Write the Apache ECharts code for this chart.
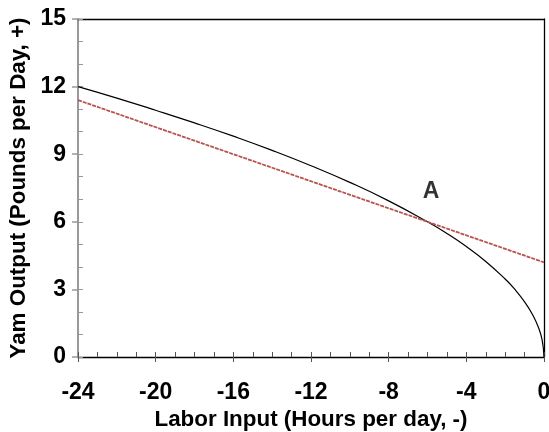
<!DOCTYPE html>
<html><head><meta charset="utf-8">
<script src="https://cdn.jsdelivr.net/npm/echarts@6/dist/echarts.min.js"></script>
<style>html,body{margin:0;padding:0;background:#fff}#c{width:549px;height:432px}</style>
</head><body><div id="c"></div>
<script>
var curveX = [-24, -22, -20, -18, -16, -14, -12, -10, -8, -6, -5, -4, -3, -2, -1.5, -1, -0.6, -0.3, -0.1, 0];
var curveY = [12, 11.49, 10.95, 10.39, 9.8, 9.17, 8.49, 7.75, 6.93, 6, 5.48, 4.9, 4.24, 3.46, 3.0, 2.45, 1.9, 1.34, 0.77, 0];
var lineX = [-24, 0];
var lineY = [11.4, 4.2];
var pointA = {label: 'A', x: -6, y: 6};
var xTicks = [-24, -20, -16, -12, -8, -4, 0];
var yTicks = [0, 3, 6, 9, 12, 15];

var chart = echarts.init(document.getElementById('c'));
var font = 'Liberation Sans, Arial, sans-serif';
function pairs(xs, ys){ return xs.map(function(x,i){return [x, ys[i]];}); }
var xBase = {type:'value', min:-24, max:0, interval:4, gridIndex:0};
var yBase = {type:'value', min:0, max:15, interval:3, gridIndex:0};
chart.setOption({
  animation:false,
  grid:{left:78, right:5, top:19, bottom:75, outerBoundsMode:'none', containLabel:false},
  xAxis:[
    Object.assign({}, xBase, {position:'bottom',
      name:'Labor Input (Hours per day, -)', nameLocation:'middle', nameGap:49,
      nameTextStyle:{fontFamily:font, fontWeight:'bold', fontSize:22.4, color:'#000'},
      axisLine:{show:true, onZero:false, lineStyle:{color:'#000', width:1.3}},
      axisTick:{show:true, inside:false, length:5, lineStyle:{color:'#555'}},
      minorTick:{show:false},
      axisLabel:{fontFamily:font, fontWeight:'bold', fontSize:23, color:'#000', margin:24,
        formatter:function(v){return xTicks.indexOf(v)>=0 ? String(v) : '';}},
      splitLine:{show:false}}),
    Object.assign({}, xBase, {position:'bottom',
      axisLine:{show:false, onZero:false},
      axisTick:{show:true, inside:true, length:5, lineStyle:{color:'#555'}},
      minorTick:{show:true, splitNumber:4, length:5, lineStyle:{color:'#555'}},
      axisLabel:{show:false}, splitLine:{show:false}}),
    Object.assign({}, xBase, {position:'top',
      axisLine:{show:true, onZero:false, lineStyle:{color:'#000', width:1.3}},
      axisTick:{show:false}, axisLabel:{show:false}, splitLine:{show:false}})
  ],
  yAxis:[
    Object.assign({}, yBase, {position:'left',
      name:'Yam Output (Pounds per Day, +)', nameLocation:'middle', nameGap:44, nameRotate:90,
      nameTextStyle:{fontFamily:font, fontWeight:'bold', fontSize:22.4, color:'#000'},
      axisLine:{show:true, onZero:false, lineStyle:{color:'#777', width:1.5}},
      axisTick:{show:true, inside:false, length:6, lineStyle:{color:'#999', width:1.5}},
      axisLabel:{fontFamily:font, fontWeight:'bold', fontSize:23, color:'#000', margin:12,
        formatter:function(v){return yTicks.indexOf(v)>=0 ? String(v) : '';}},
      splitLine:{show:false}}),
    Object.assign({}, yBase, {position:'left',
      axisLine:{show:false, onZero:false},
      axisTick:{show:true, inside:true, length:5, lineStyle:{color:'#999'}},
      minorTick:{show:true, splitNumber:3, length:5, lineStyle:{color:'#999'}},
      axisLabel:{show:false}, splitLine:{show:false}}),
    Object.assign({}, yBase, {position:'right',
      axisLine:{show:true, onZero:false, lineStyle:{color:'#000', width:1.3}},
      axisTick:{show:false}, axisLabel:{show:false}, splitLine:{show:false}})
  ],
  series:[
    {type:'line', xAxisIndex:0, yAxisIndex:0, data:pairs(curveX, curveY), smooth:true,
      showSymbol:false, lineStyle:{color:'#000', width:1.2}, z:3},
    {type:'line', xAxisIndex:0, yAxisIndex:0, data:pairs(lineX, lineY),
      showSymbol:false, lineStyle:{color:'#b85450', width:1.8, type:[4,1]}, z:4},
    {type:'scatter', xAxisIndex:0, yAxisIndex:0, data:[[pointA.x, pointA.y]], symbolSize:0,
      label:{show:true, formatter:pointA.label, position:'inside', offset:[3.5,-30],
        fontFamily:font, fontWeight:'bold', fontSize:23, color:'#000'}}
  ]
});
</script></body></html>
